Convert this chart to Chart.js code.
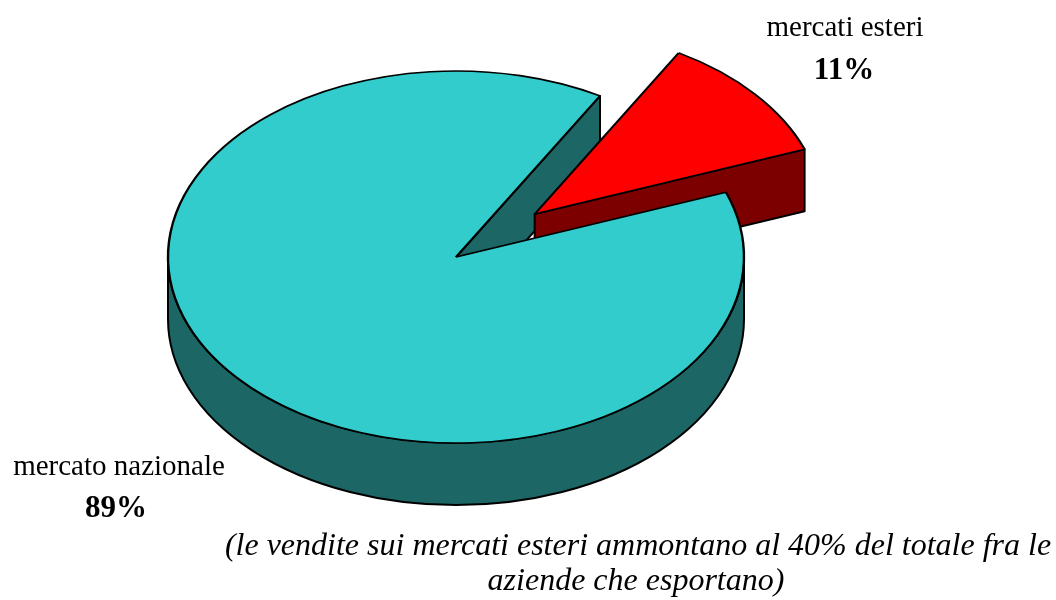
<!DOCTYPE html>
<html>
<head>
<meta charset="utf-8">
<script src="https://cdn.jsdelivr.net/npm/chart.js@4.4.0/dist/chart.umd.min.js"></script>
<style>
  html, body { margin: 0; padding: 0; background: #fff; }
  #wrap { width: 1056px; height: 600px; position: relative; }
</style>
</head>
<body>
<div id="wrap"><canvas id="pie"></canvas></div>
<script>
// data
const categories = ['mercati esteri', 'mercato nazionale'];
const shares = [11, 89];
const noteLines = [
  '(le vendite sui mercati esteri ammontano al 40% del totale fra le',
  'aziende che esportano)'
];

// look of the 3d pie
const topColors = ['#FF0000', '#33CCCC'];
const sideColors = ['#7C0000', '#1C6666'];
const explode = [103, 0];   // px the slice is pulled out
const TILT = 0.646;         // vertical squash of the disc
const DEPTH = 62;           // thickness in screen px
const SERIF = '"Liberation Serif", "Times New Roman", serif';

function rim(g, a, dz) {
  return [g.cx + g.r * Math.cos(a), g.cy + g.ry * Math.sin(a) + dz];
}

function drawSides(ctx, g, color) {
  ctx.fillStyle = color;
  // radial cut faces that look toward the viewer
  let faces = [];
  if (Math.cos(g.start) < 0) faces.push(g.start);
  if (Math.cos(g.end) > 0) faces.push(g.end);
  faces.forEach(a => {
    let [x1, y1] = rim(g, a, 0);
    ctx.beginPath();
    ctx.moveTo(g.cx, g.cy);
    ctx.lineTo(x1, y1);
    ctx.lineTo(x1, y1 + DEPTH);
    ctx.lineTo(g.cx, g.cy + DEPTH);
    ctx.closePath();
    ctx.fill();
    ctx.stroke();
  });
  // outer wall, only the front half shows
  for (let k = -1; k <= 1; k++) {
    let lo = Math.max(g.start, k * 2 * Math.PI);
    let hi = Math.min(g.end, k * 2 * Math.PI + Math.PI);
    if (lo >= hi) continue;
    ctx.beginPath();
    ctx.ellipse(g.cx, g.cy, g.r, g.ry, 0, lo, hi, false);
    ctx.ellipse(g.cx, g.cy + DEPTH, g.r, g.ry, 0, hi, lo, true);
    ctx.closePath();
    ctx.fill();
    ctx.stroke();
  }
}

const pie3d = {
  id: 'pie3d',
  beforeDatasetsDraw(chart) {
    const ctx = chart.ctx;
    const arcs = chart.getDatasetMeta(0).data;
    const geo = arcs.map((arc, i) => {
      let p = arc.getProps(['x', 'y', 'startAngle', 'endAngle', 'outerRadius'], true);
      let mid = (p.startAngle + p.endAngle) / 2;
      let ex = Math.cos(mid) * explode[i], ey = Math.sin(mid) * explode[i];
      return {
        arc: arc, x: p.x, y: p.y, ex: ex, ey: ey,
        start: p.startAngle, end: p.endAngle, r: p.outerRadius,
        cx: p.x + ex, cy: p.y + ey * TILT, ry: p.outerRadius * TILT
      };
    });
    ctx.save();
    ctx.lineWidth = 2;
    ctx.strokeStyle = '#000';
    ctx.lineJoin = 'round';
    // back slice walls first, then the pulled-out one
    [1, 0].forEach(i => drawSides(ctx, geo[i], sideColors[i]));
    ctx.restore();
    // top faces, drawn by the library under a squash
    geo.forEach(g => {
      ctx.save();
      ctx.translate(g.x, g.y);
      ctx.scale(1, TILT);
      ctx.translate(-g.x + g.ex, -g.y + g.ey);
      g.arc.draw(ctx);
      ctx.restore();
    });
    return false;
  },
  afterDraw(chart) {
    const ctx = chart.ctx;
    ctx.save();
    ctx.fillStyle = '#000';
    ctx.textAlign = 'center';
    ctx.textBaseline = 'alphabetic';
    // slice labels
    const spots = [[845, 36, 844, 79], [119, 475, 116, 517]];
    categories.forEach((c, i) => {
      let s = spots[i];
      ctx.font = '29px ' + SERIF;
      ctx.fillText(c, s[0], s[1]);
      ctx.font = 'bold 31px ' + SERIF;
      ctx.fillText(shares[i] + '%', s[2], s[3]);
    });
    // note under the pie
    ctx.font = 'italic 32px ' + SERIF;
    ctx.fillText(noteLines[0], 638, 555);
    ctx.fillText(noteLines[1], 636, 590);
    ctx.restore();
  }
};

new Chart(document.getElementById('pie'), {
  type: 'pie',
  data: {
    labels: categories,
    datasets: [{
      data: shares,
      backgroundColor: topColors,
      borderColor: '#000',
      borderWidth: 2.4,
      hoverOffset: 0
    }]
  },
  options: {
    responsive: true,
    maintainAspectRatio: false,
    animation: false,
    events: [],
    rotation: 30,
    radius: 288,
    layout: { padding: { left: 0, right: 144, top: 0, bottom: 86 } },
    plugins: {
      legend: { display: false },
      tooltip: { enabled: false }
    }
  },
  plugins: [pie3d]
});
</script>
</body>
</html>
